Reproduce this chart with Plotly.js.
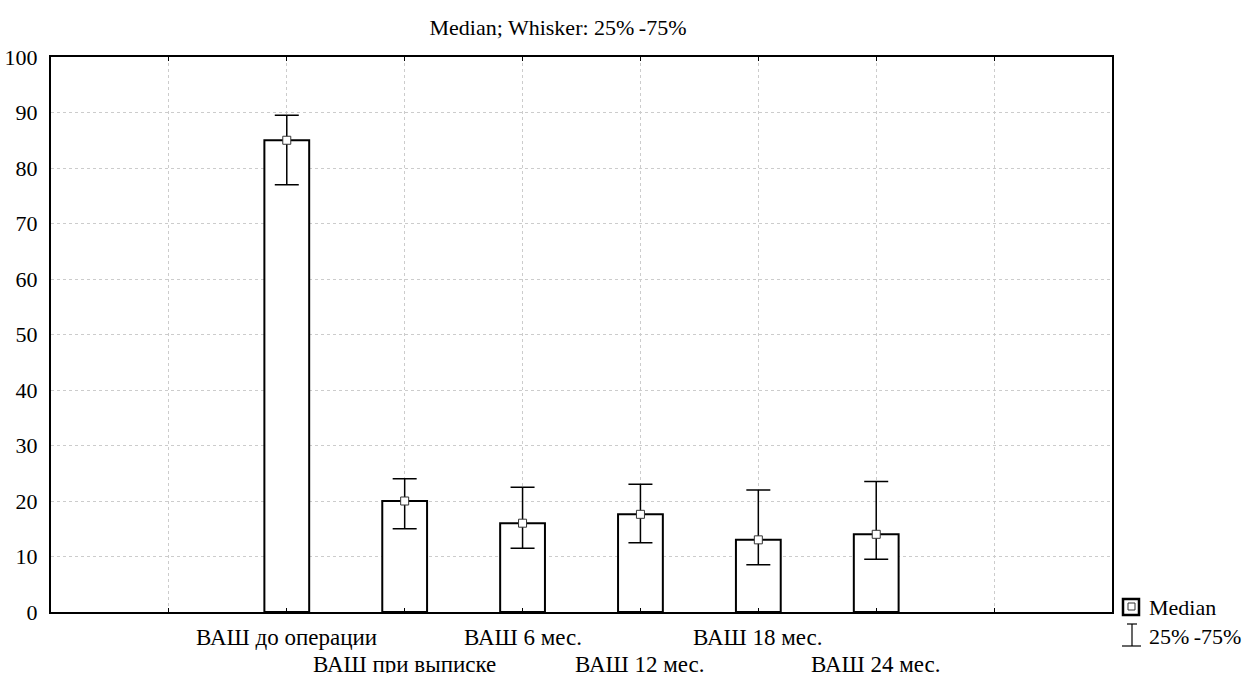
<!DOCTYPE html>
<html>
<head>
<meta charset="utf-8">
<script src="https://cdn.plot.ly/plotly-3.0.1.min.js"></script>
<style>html,body{margin:0;padding:0;background:#fff;font-family:"Times New Roman","Liberation Serif",serif;}#chart{width:1243px;height:673px;}</style>
</head>
<body>
<div id="chart"></div>
<script>
// ---- data ----
const categories = ["ВАШ до операции", "ВАШ при выписке", "ВАШ 6 мес.", "ВАШ 12 мес.", "ВАШ 18 мес.", "ВАШ 24 мес."];
const positions = [2, 3, 4, 5, 6, 7];
const medians = [85, 20, 16, 17.6, 13, 14];
const q25 = [77, 15, 11.5, 12.5, 8.5, 9.5];
const q75 = [89.5, 24, 22.5, 23, 22, 23.5];
const yTicks = [0, 10, 20, 30, 40, 50, 60, 70, 80, 90, 100];
const titleText = "Median; Whisker: 25%\u2009-75%";
const legendLabels = ["Median", "25%\u2009-75%"];

const FONT = '"Times New Roman", "Liberation Serif", serif';
const W = 1243, H = 673, L = 51, R = 1112, T = 57, B = 612;
const px = x => (x - L) / (R - L);
const py = y => (B - y) / (B - T);

const errPlus = q75.map((v, i) => v - medians[i]);
const errMinus = medians.map((v, i) => v - q25[i]);

const traces = [
  {
    type: 'bar', x: positions, y: medians, width: 0.38,
    marker: {color: '#ffffff', line: {color: '#000000', width: 2}},
    error_y: {type: 'data', symmetric: false, array: errPlus, arrayminus: errMinus,
              color: '#000000', thickness: 1.5, width: 12},
    showlegend: false, hoverinfo: 'skip'
  },
  {
    type: 'scatter', mode: 'markers', x: positions, y: medians,
    marker: {symbol: 'square', size: 8, color: '#ffffff', line: {color: '#333333', width: 1}},
    showlegend: false, hoverinfo: 'skip'
  }
];

const annotations = categories.map((c, i) => ({
  text: c, x: positions[i], xref: 'x', yref: 'paper',
  y: i % 2 === 0 ? py(637) : py(664), yanchor: 'middle', xanchor: 'center',
  showarrow: false, font: {family: FONT, size: 23, color: '#000'}
}));
annotations.push({text: legendLabels[0], xref: 'paper', yref: 'paper', x: px(1147), y: py(607),
  xanchor: 'left', yanchor: 'middle', showarrow: false, font: {family: FONT, size: 22, color: '#000'}});
annotations.push({text: legendLabels[1], xref: 'paper', yref: 'paper', x: px(1147), y: py(636),
  xanchor: 'left', yanchor: 'middle', showarrow: false, font: {family: FONT, size: 22, color: '#000'}});

const shapes = [
  {type: 'rect', xref: 'paper', yref: 'paper', x0: px(1123), x1: px(1139), y0: py(599), y1: py(615),
   line: {color: '#000', width: 2.5}, fillcolor: '#fff'},
  {type: 'rect', xref: 'paper', yref: 'paper', x0: px(1128), x1: px(1135), y0: py(603), y1: py(610),
   line: {color: '#333', width: 1}, fillcolor: '#fff'},
  {type: 'line', xref: 'paper', yref: 'paper', x0: px(1132), x1: px(1132), y0: py(624), y1: py(646),
   line: {color: '#000', width: 1.2}},
  {type: 'line', xref: 'paper', yref: 'paper', x0: px(1127), x1: px(1137), y0: py(624), y1: py(624),
   line: {color: '#000', width: 1.2}},
  {type: 'line', xref: 'paper', yref: 'paper', x0: px(1122), x1: px(1141), y0: py(646), y1: py(646),
   line: {color: '#000', width: 1.2}}
];

const layout = {
  width: W, height: H,
  margin: {l: L, r: W - R, t: T, b: H - B, pad: 0},
  paper_bgcolor: '#fff', plot_bgcolor: '#fff',
  font: {family: FONT, color: '#000', size: 20},
  title: {text: titleText, x: px(558), xref: 'paper', xanchor: 'center', y: 1 - 27 / H, yanchor: 'middle',
          font: {family: FONT, size: 22, color: '#000'}},
  xaxis: {range: [0, 9], tickvals: [1, 2, 3, 4, 5, 6, 7, 8], showticklabels: false,
          ticks: 'inside', ticklen: 4, tickcolor: '#000', tickwidth: 1,
          showgrid: true, gridcolor: '#cccccc', griddash: 'dot', gridwidth: 1,
          showline: true, linecolor: '#000', linewidth: 2, mirror: 'ticks', zeroline: false, fixedrange: true},
  yaxis: {range: [0, 100], tickvals: yTicks, ticks: '', ticklabelstandoff: 7,
          tickfont: {family: FONT, size: 22, color: '#000'},
          showgrid: true, gridcolor: '#cccccc', griddash: 'dot', gridwidth: 1,
          showline: true, linecolor: '#000', linewidth: 2, mirror: true, zeroline: false, fixedrange: true},
  annotations: annotations,
  shapes: shapes,
  showlegend: false
};

Plotly.newPlot('chart', traces, layout, {staticPlot: true, displayModeBar: false});
</script>
</body>
</html>
